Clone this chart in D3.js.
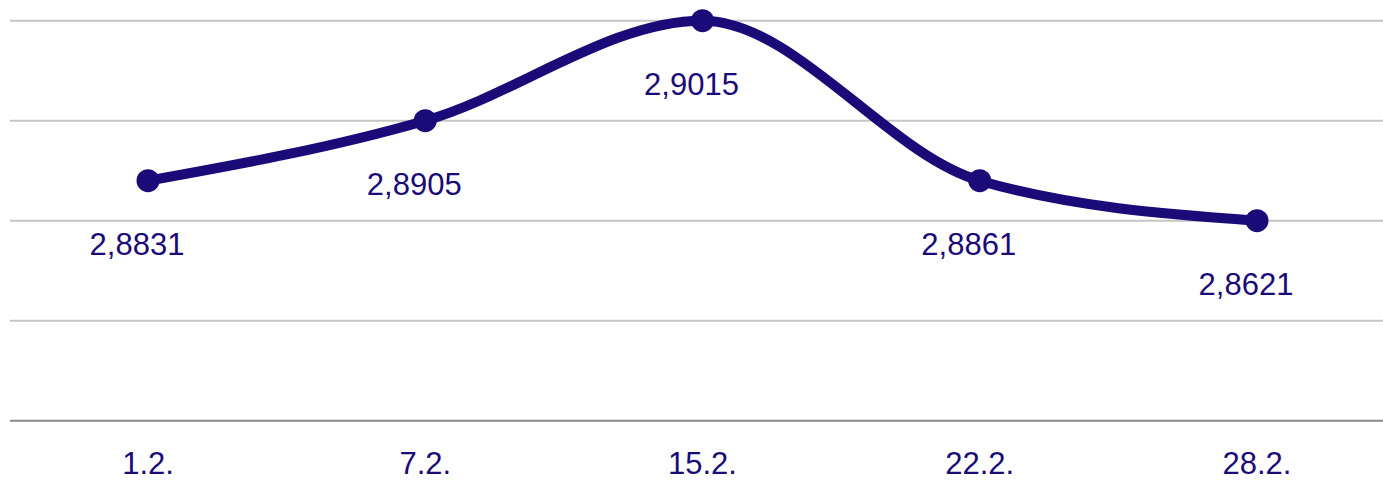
<!DOCTYPE html>
<html>
<head>
<meta charset="utf-8">
<script src="https://cdn.jsdelivr.net/npm/d3@7"></script>
<style>
  body { margin: 0; background: #fff; }
  text { font-family: "Liberation Sans", Arial, sans-serif; }
</style>
</head>
<body>
<svg width="1383" height="481"></svg>
<script>
// dates on the x axis
const dates = ['1.2.', '7.2.', '15.2.', '22.2.', '28.2.'];
// printed values next to each point
const labels = ['2,8831', '2,8905', '2,9015', '2,8861', '2,8621'];
// plotted height of each point, in gridline steps above the base line
const levels = [2.4, 3, 4, 2.4, 2];
// gridline ticks
const gridTicks = [0, 1, 2, 3, 4];

const navy = '#1a0b78';

const svg = d3.select('svg');
const width = +svg.attr('width');

const margin = { left: 148, right: 126, top: 20.7, bottom: 60.3 };

const x = d3.scalePoint()
  .domain(dates)
  .range([margin.left, width - margin.right]);

const y = d3.scaleLinear()
  .domain([0, 4])
  .range([420.7, margin.top]);

// gridlines, base line darker
svg.append('g')
  .selectAll('line')
  .data(gridTicks)
  .join('line')
    .attr('x1', 10)
    .attr('x2', width)
    .attr('y1', d => y(d))
    .attr('y2', d => y(d))
    .attr('stroke', d => d === 0 ? '#8a8a8a' : '#c6c6c6')
    .attr('stroke-width', 2);

// x axis labels
svg.append('g')
  .selectAll('text')
  .data(dates)
  .join('text')
    .attr('x', d => x(d))
    .attr('y', 474)
    .attr('text-anchor', 'middle')
    .attr('font-size', 31)
    .attr('fill', navy)
    .text(d => d);

const points = dates.map((d, i) => ({ date: d, level: levels[i], label: labels[i] }));

const line = d3.line()
  .x(d => x(d.date))
  .y(d => y(d.level))
  .curve(d3.curveMonotoneX);

svg.append('path')
  .datum(points)
  .attr('d', line)
  .attr('fill', 'none')
  .attr('stroke', navy)
  .attr('stroke-width', 10)
  .attr('stroke-linecap', 'round');

svg.append('g')
  .selectAll('circle')
  .data(points)
  .join('circle')
    .attr('cx', d => x(d.date))
    .attr('cy', d => y(d.level))
    .attr('r', 11.5)
    .attr('fill', navy);

// value labels below points
svg.append('g')
  .selectAll('text')
  .data(points)
  .join('text')
    .attr('x', d => x(d.date) - 11)
    .attr('y', d => y(d.level) + 74)
    .attr('text-anchor', 'middle')
    .attr('font-size', 31)
    .attr('fill', navy)
    .text(d => d.label);
</script>
</body>
</html>
